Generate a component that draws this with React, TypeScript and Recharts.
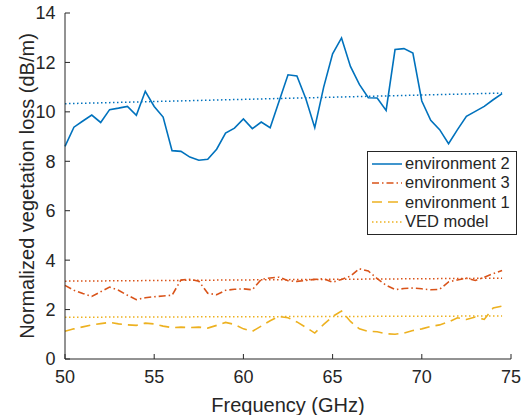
import { LineChart, Line, XAxis, YAxis, Label } from 'recharts'

const freq = [
  50, 50.5, 51, 51.5, 52, 52.5, 53, 53.5, 54, 54.5, 55, 55.5, 56, 56.5, 57, 57.5, 58, 58.5, 59, 59.5,
  60, 60.5, 61, 61.5, 62, 62.5, 63, 63.5, 64, 64.5, 65, 65.5, 66, 66.5, 67, 67.5, 68, 68.5, 69, 69.5,
  70, 70.5, 71, 71.5, 72, 72.5, 73, 73.5, 74, 74.5,
]

const env2 = [
  8.6, 9.38, 9.63, 9.87, 9.57, 10.09, 10.15, 10.22, 9.86, 10.83, 10.22, 9.79, 8.43, 8.4, 8.17, 8.04, 8.08, 8.49, 9.14, 9.34,
  9.71, 9.32, 9.59, 9.36, 10.43, 11.5, 11.45, 10.53, 9.36, 11.0, 12.35, 12.99, 11.84, 11.11, 10.57, 10.56, 10.06, 12.52, 12.56, 12.38,
  10.44, 9.66, 9.28, 8.71, 9.28, 9.82, 10.02, 10.22, 10.49, 10.74,
]

const env3 = [
  2.98, 2.78, 2.65, 2.53, 2.72, 2.91, 2.78, 2.58, 2.4, 2.48, 2.52, 2.55, 2.58, 3.2, 3.22, 3.15, 2.66, 2.6, 2.78, 2.82,
  2.84, 2.8, 3.22, 3.28, 3.31, 3.17, 3.14, 3.18, 3.22, 3.25, 3.11, 3.22, 3.35, 3.65, 3.56, 3.25, 2.98, 2.81, 2.85, 2.87,
  2.84, 2.8, 2.82, 3.12, 3.2, 3.27, 3.18, 3.31, 3.45, 3.58,
]

const env1 = [
  1.12, 1.22, 1.3, 1.38, 1.43, 1.48, 1.42, 1.38, 1.36, 1.45, 1.42, 1.33, 1.27, 1.29, 1.27, 1.29, 1.25, 1.36, 1.48, 1.4,
  1.22, 1.12, 1.33, 1.55, 1.72, 1.67, 1.5, 1.28, 1.05, 1.4, 1.72, 1.94, 1.52, 1.22, 1.12, 1.1, 1.02, 1.0, 1.05, 1.15,
  1.22, 1.32, 1.38, 1.5, 1.67, 1.6, 1.7, 1.6, 2.06, 2.14,
]

// VED model: straight lines, start and end values only
const vedEnv2 = [10.33, 10.76]
const vedEnv3 = [3.15, 3.27]
const vedEnv1 = [1.69, 1.74]

const xTicks = [50, 55, 60, 65, 70, 75]
const yTicks = [0, 2, 4, 6, 8, 10, 12, 14]

const font = '"Liberation Sans", Arial, Helvetica, sans-serif'
const ink = '#262626'
const blue = '#0072BD'
const red = '#D95319'
const yellow = '#EDB120'

const dotted = '1.5 2.5'
const dashDot = '7 3 1.5 3'
const dashed = '10 6'

const legendItems = [
  { name: 'environment 2', color: blue, dash: undefined },
  { name: 'environment 3', color: red, dash: dashDot },
  { name: 'environment 1', color: yellow, dash: dashed },
  { name: 'VED model', color: yellow, dash: dotted },
]

function ends(v: number[], i: number) {
  if (i === 0) return v[0]
  if (i === freq.length - 1) return v[1]
  return null
}

export default function App() {
  const data = freq.map((f, i) => ({
    f,
    env2: env2[i],
    env3: env3[i],
    env1: env1[i],
    ved2: ends(vedEnv2, i),
    ved3: ends(vedEnv3, i),
    ved1: ends(vedEnv1, i),
  }))

  const tick = { fontSize: 18, fill: ink, fontFamily: font }

  return (
    <div style={{ position: 'absolute', left: 0, top: 0, width: 529, height: 415, background: '#fff' }}>
      <LineChart width={529} height={415} data={data} margin={{ top: 13, right: 18, left: 0, bottom: 0 }}>
        <XAxis
          dataKey="f"
          type="number"
          domain={[50, 75]}
          ticks={xTicks}
          tick={tick}
          stroke={ink}
          tickSize={-5}
          tickMargin={16.5}
          height={56}
        >
          <Label
            content={() => (
              <text x={288} y={412} textAnchor="middle" fontSize={20} fill={ink} fontFamily={font}>
                Frequency (GHz)
              </text>
            )}
          />
        </XAxis>
        <YAxis
          type="number"
          domain={[0, 14]}
          ticks={yTicks}
          tick={tick}
          stroke={ink}
          tickSize={-5}
          tickMargin={14.5}
          width={65}
        >
          <Label
            content={() => (
              <text
                x={33.5}
                y={186}
                transform="rotate(-90 33.5 186)"
                textAnchor="middle"
                fontSize={20}
                fill={ink}
                fontFamily={font}
              >
                Normalized vegetation loss (dB/m)
              </text>
            )}
          />
        </YAxis>
        <Line type="linear" dataKey="env2" stroke={blue} strokeWidth={1.6} dot={false} isAnimationActive={false} />
        <Line type="linear" dataKey="env3" stroke={red} strokeWidth={1.6} strokeDasharray={dashDot} dot={false} isAnimationActive={false} />
        <Line type="linear" dataKey="env1" stroke={yellow} strokeWidth={1.6} strokeDasharray={dashed} dot={false} isAnimationActive={false} />
        <Line type="linear" dataKey="ved2" stroke={blue} strokeWidth={1.5} strokeDasharray={dotted} dot={false} connectNulls isAnimationActive={false} />
        <Line type="linear" dataKey="ved3" stroke={red} strokeWidth={1.5} strokeDasharray={dotted} dot={false} connectNulls isAnimationActive={false} />
        <Line type="linear" dataKey="ved1" stroke={yellow} strokeWidth={1.5} strokeDasharray={dotted} dot={false} connectNulls isAnimationActive={false} />
      </LineChart>
      <div
        style={{
          position: 'absolute',
          left: 367,
          top: 151,
          width: 150,
          height: 84,
          boxSizing: 'border-box',
          border: `1px solid ${ink}`,
          background: '#fff',
          paddingTop: 2,
          paddingLeft: 4,
          fontFamily: font,
          fontSize: 16.5,
          color: ink,
        }}
      >
        {legendItems.map((it) => (
          <div key={it.name} style={{ height: 19.3, lineHeight: '19.3px', display: 'flex', alignItems: 'center', whiteSpace: 'nowrap' }}>
            <svg width={30} height={10} style={{ marginRight: 3, flex: 'none' }}>
              <line x1={0} y1={5} x2={30} y2={5} stroke={it.color} strokeWidth={1.5} strokeDasharray={it.dash} />
            </svg>
            <span>{it.name}</span>
          </div>
        ))}
      </div>
    </div>
  )
}
